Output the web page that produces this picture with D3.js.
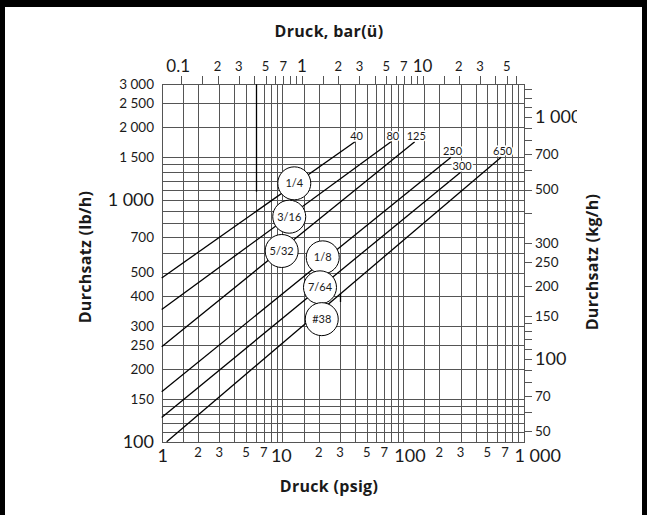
<!DOCTYPE html>
<meta charset="utf-8">
<html>
<head>
<style>
body { margin: 0; background: #fff; }
text { font-family: Lato, "Open Sans", sans-serif; fill: #1a1a1a; }
.grid line { stroke: #555; stroke-width: 1; shape-rendering: crispEdges; }
.frame { fill: none; stroke: #555; stroke-width: 1; shape-rendering: crispEdges; }
.flow { stroke: #000; stroke-width: 1.3; fill: none; }
.size circle { fill: #fff; stroke: #000; stroke-width: 1; }
.title { font-family: "Open Sans", sans-serif; font-weight: bold; font-size: 16px; letter-spacing: 0.3px; }
.endlab { font-size: 11px; paint-order: stroke; stroke: #fff; stroke-width: 3px; }
</style>
</head>
<body>
<svg id="chart" width="647" height="515"></svg>
<script src="https://d3js.org/d3.v7.min.js"></script>
<script>

// grid / tick values
var psigGrid = [1,1.5,2,3,4,5,6,7,8,9,10,15,20,30,40,50,60,70,80,90,100,150,200,300,400,500,600,700,800,900,1000];
var flowGrid = [100,110,120,130,140,150,200,250,300,400,500,600,700,800,900,1000,1100,1200,1300,1400,1500,2000,2500,3000];
var psigLabels = [1,2,3,5,7,10,20,30,50,70,100,200,300,500,700,1000];
var flowLabels = [100,150,200,250,300,400,500,700,1000,1500,2000,2500,3000];
var barTicks = [0.1,0.15,0.2,0.3,0.4,0.5,0.6,0.7,0.8,0.9,1,1.5,2,3,4,5,6,7,8,9,10,15,20,30,40,50,60];
var barLabels = [0.1,0.2,0.3,0.5,0.7,1,2,3,5,7,10,20,30,50];
var kgTicks = [50,60,70,80,90,100,110,120,130,140,150,200,250,300,400,500,600,700,800,900,1000,1100,1200,1300];
var kgLabels = [50,70,100,150,200,250,300,500,700,1000];

// orifice lines: start [psig, lb/h], end [psig, lb/h]
var sizes     = ["1/4", "3/16", "5/32", "1/8", "7/64", "#38"];
var maxPsig   = [40, 80, 125, 250, 300, 650];
var lineStart = [[1,475],[1,352],[1,247],[1,161],[1,126],[1.1,100]];
var endFlow   = [1737, 1740, 1737, 1500, 1300, 1500];
// circle label positions [psig, lb/h]
var circlePos = [[12.55,1169],[11.4,851],[9.87,614],[21.6,578],[20.5,434.5],[21.2,321]];

var PSI_PER_BAR = 14.5038, LB_PER_KG = 2.20462;

var svg = d3.select("#chart");

var x = d3.scaleLog().domain([1, 1000]).range([161.7, 523.7]);
var y = d3.scaleLog().domain([100, 3000]).range([441.7, 84.3]);

function isMajor(v) { return Math.abs(Math.log10(v) - Math.round(Math.log10(v))) < 1e-9; }
function bigFmt(v) { return d3.format(",")(v).replace(/,/g, " "); }
function minorFmt(v) { return String(Math.round(v / Math.pow(10, Math.floor(Math.log10(v) + 1e-9)))); }

// grid
var grid = svg.append("g").attr("class", "grid");
grid.selectAll(".v").data(psigGrid).enter().append("line")
  .attr("x1", function(d) { return Math.round(x(d)) + 0.5; })
  .attr("x2", function(d) { return Math.round(x(d)) + 0.5; })
  .attr("y1", y(3000)).attr("y2", y(100));
grid.selectAll(".h").data(flowGrid).enter().append("line")
  .attr("y1", function(d) { return Math.round(y(d)) + 0.5; })
  .attr("y2", function(d) { return Math.round(y(d)) + 0.5; })
  .attr("x1", x(1)).attr("x2", x(1000));

// top axis ticks (bar)
grid.selectAll(".bt").data(barTicks).enter().append("line")
  .attr("x1", function(d) { return Math.round(x(d * PSI_PER_BAR)) + 0.5; })
  .attr("x2", function(d) { return Math.round(x(d * PSI_PER_BAR)) + 0.5; })
  .attr("y1", y(3000) - 8).attr("y2", y(3000));

// right axis ticks (kg/h)
grid.selectAll(".kt").data(kgTicks).enter().append("line")
  .attr("y1", function(d) { return Math.round(y(d * LB_PER_KG)) + 0.5; })
  .attr("y2", function(d) { return Math.round(y(d * LB_PER_KG)) + 0.5; })
  .attr("x1", x(1000)).attr("x2", x(1000) + 8);

svg.append("rect").attr("class", "frame")
  .attr("x", Math.round(x(1)) + 0.5).attr("y", Math.round(y(3000)) + 0.5)
  .attr("width", Math.round(x(1000)) - Math.round(x(1)))
  .attr("height", Math.round(y(100)) - Math.round(y(3000)));

// darker overdrawn marks in the original drawing
svg.append("line").attr("x1", Math.round(x(6)) + 0.5).attr("x2", Math.round(x(6)) + 0.5)
  .attr("y1", y(3000)).attr("y2", y(1080))
  .attr("stroke", "#000").attr("stroke-width", 1.3);
svg.append("line").attr("x1", Math.round(x(30)) + 0.5).attr("x2", Math.round(x(30)) + 0.5)
  .attr("y1", y(411)).attr("y2", y(378))
  .attr("stroke", "#000").attr("stroke-width", 1.3);

// orifice lines
svg.selectAll(".flow").data(sizes).enter().append("line")
  .attr("class", "flow")
  .attr("x1", function(d, i) { return x(lineStart[i][0]); })
  .attr("y1", function(d, i) { return y(lineStart[i][1]); })
  .attr("x2", function(d, i) { return x(maxPsig[i]); })
  .attr("y2", function(d, i) { return y(endFlow[i]); });

svg.selectAll(".endlab").data(maxPsig).enter().append("text")
  .attr("class", "endlab")
  .attr("x", function(d) { return x(d) + 1.5; })
  .attr("y", function(d, i) { return y(endFlow[i]) - 2; })
  .attr("text-anchor", "middle")
  .text(function(d) { return d; });

var sz = svg.selectAll(".size").data(sizes).enter().append("g")
  .attr("class", "size")
  .attr("transform", function(d, i) { return "translate(" + x(circlePos[i][0]) + "," + y(circlePos[i][1]) + ")"; });
sz.append("circle").attr("r", 16.5);
sz.append("text").attr("text-anchor", "middle").attr("dy", "0.36em")
  .style("font-size", "11px").text(function(d) { return d; });

// bottom labels (psig)
var bottomDx = {1: 1, 10: -1, 100: 7, 1000: 14};
svg.selectAll(".bl").data(psigLabels).enter().append("text")
  .attr("x", function(d) { return x(d) + (bottomDx[d] || 0); })
  .attr("y", function(d) { return isMajor(d) ? 462 : 457; })
  .attr("text-anchor", "middle")
  .style("font-size", function(d) { return isMajor(d) ? "18px" : "13px"; })
  .text(function(d) { return isMajor(d) ? bigFmt(d) : minorFmt(d); });

// top labels (bar)
var topDx = {0.1: -3};
svg.selectAll(".tl").data(barLabels).enter().append("text")
  .attr("x", function(d) { return x(d * PSI_PER_BAR) + (topDx[d] || 0); })
  .attr("y", function(d) { return isMajor(d) ? 72 : 71; })
  .attr("text-anchor", "middle")
  .style("font-size", function(d) { return isMajor(d) ? "17px" : "13px"; })
  .text(function(d) { return isMajor(d) ? String(d) : minorFmt(d); });

// left labels (lb/h)
svg.selectAll(".ll").data(flowLabels).enter().append("text")
  .attr("x", 154)
  .attr("y", function(d) { return y(d); })
  .attr("dy", "0.36em")
  .attr("text-anchor", "end")
  .style("font-size", function(d) { return isMajor(d) ? "18px" : "13.5px"; })
  .text(function(d) { return bigFmt(d); });

// right labels (kg/h)
svg.append("clipPath").attr("id", "rclip").append("rect")
  .attr("x", 525).attr("y", 0).attr("width", 52).attr("height", 515);
svg.append("g").attr("clip-path", "url(#rclip)")
  .selectAll("text").data(kgLabels).enter().append("text")
  .attr("x", 535)
  .attr("y", function(d) { return y(d * LB_PER_KG); })
  .attr("dy", "0.36em")
  .style("font-size", function(d) { return isMajor(d) ? "18px" : "13.5px"; })
  .text(function(d) { return bigFmt(d); });

// titles
svg.append("text").attr("class", "title").attr("x", 329).attr("y", 37)
  .attr("text-anchor", "middle").text("Druck, bar(ü)");
svg.append("text").attr("class", "title").attr("x", 329).attr("y", 492)
  .attr("text-anchor", "middle").text("Druck (psig)");
svg.append("text").attr("class", "title")
  .attr("transform", "translate(91,257) rotate(-90)")
  .attr("text-anchor", "middle").text("Durchsatz (lb/h)");
svg.append("text").attr("class", "title")
  .attr("transform", "translate(598,262) rotate(-90)")
  .attr("text-anchor", "middle").text("Durchsatz (kg/h)");

// black frame of the original image
svg.append("rect").attr("x", 0).attr("y", 0).attr("width", 647).attr("height", 7).attr("fill", "#000");
svg.append("rect").attr("x", 0).attr("y", 0).attr("width", 5).attr("height", 515).attr("fill", "#000");
svg.append("rect").attr("x", 642).attr("y", 0).attr("width", 5).attr("height", 515).attr("fill", "#000");

</script>
</body>
</html>
